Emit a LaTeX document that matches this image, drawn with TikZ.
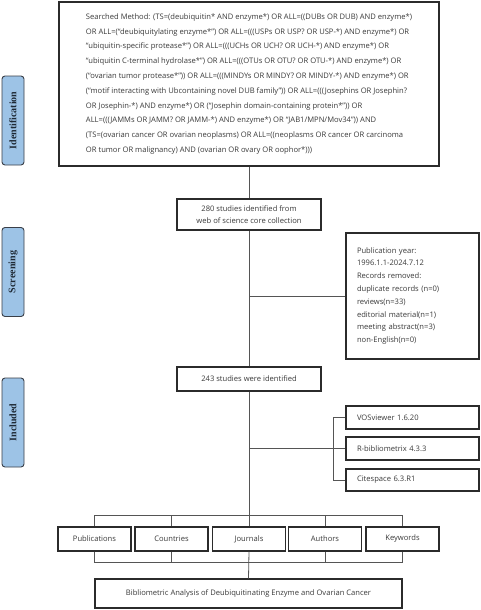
\documentclass[tikz,border=0pt]{standalone}
\usepackage{fontspec}
\setmainfont{Open Sans}
\newfontfamily\labelfont{Liberation Serif}
\definecolor{boxc}{HTML}{2B2B2B}
\definecolor{linec}{HTML}{555555}
\definecolor{txt}{HTML}{3A3A3A}
\definecolor{sidefill}{HTML}{9DC3E6}
\definecolor{sidec}{HTML}{3A3F48}
\definecolor{sidetext}{HTML}{1F2A36}
\begin{document}
\begin{tikzpicture}[x=1pt,y=-1pt,
  box/.style={draw=boxc, line width=1.1pt, fill=white, text=txt, inner sep=0pt,
    font=\fontsize{7.6}{9}\selectfont},
  sidebox/.style={draw=sidec, line width=0.9pt, fill=sidefill, rounded corners=3pt,
    rotate=90, minimum width=89pt, minimum height=22pt, inner sep=0pt, text=sidetext,
    font=\labelfont\bfseries\fontsize{10}{11}\selectfont},
  toolbox/.style={box, minimum height=23pt, inner xsep=11pt, text width=111pt, align=left},
  smallbox/.style={box, minimum width=73pt, minimum height=24pt},
  link/.style={draw=linec, line width=0.8pt}]
\useasboundingbox (0,0) rectangle (480,610);

% side labels
\node[sidebox] (ident) at (13,120.5) {Identification};
\node[sidebox] (screen) at (13,272) {Screening};
\node[sidebox] (incl) at (13,422.5) {Included};

% search box
\node[box, minimum width=380pt, minimum height=164pt, align=left,
  font=\fontsize{7.6}{14.8}\selectfont] (search) at (249,84) {%
Searched Method: (TS=(deubiquitin* AND enzyme*) OR ALL=((DUBs OR DUB) AND enzyme*)\\
OR ALL=(“deubiquitylating enzyme*”) OR ALL=(((USPs OR USP? OR USP-*) AND enzyme*) OR\\
“ubiquitin-specific protease*”) OR ALL=(((UCHs OR UCH? OR UCH-*) AND enzyme*) OR\\
“ubiquitin C-terminal hydrolase*”) OR ALL=(((OTUs OR OTU? OR OTU-*) AND enzyme*) OR\\
(“ovarian tumor protease*”)) OR ALL=(((MINDYs OR MINDY? OR MINDY-*) AND enzyme*) OR\\
(“motif interacting with Ubcontaining novel DUB family”)) OR ALL=(((Josephins OR Josephin?\\
OR Josephin-*) AND enzyme*) OR (“Josephin domain-containing protein*”)) OR\\
ALL=(((JAMMs OR JAMM? OR JAMM-*) AND enzyme*) OR “JAB1/MPN/Mov34”)) AND\\
(TS=(ovarian cancer OR ovarian neoplasms) OR ALL=((neoplasms OR cancer OR carcinoma\\
OR tumor OR malignancy) AND (ovarian OR ovary OR oophor*)))};

\node[box, minimum width=144pt, minimum height=31pt, align=center,
  font=\fontsize{7.6}{12}\selectfont] (s280) at (249,214.5)
  {280 studies identified from\\web of science core collection};

\node[box, minimum height=126pt, inner xsep=11pt, text width=111pt, align=left,
  font=\fontsize{7.6}{12.8}\selectfont] (pubyear) at (412.5,296) {%
Publication year:\\
1996.1.1-2024.7.12\\
Records removed:\\
duplicate records (n=0)\\
reviews(n=33)\\
editorial material(n=1)\\
meeting abstract(n=3)\\
non-English(n=0)};

\node[box, minimum width=144pt, minimum height=24pt] (s243) at (249,379)
  {243 studies were identified};

\node[toolbox] (vos) at (412.5,417.5) {VOSviewer 1.6.20};
\node[toolbox] (rbib) at (412.5,448.5) {R-bibliometrix 4.3.3};
\node[toolbox, minimum height=22pt] (cite) at (412.5,480) {Citespace 6.3.R1};

\node[smallbox] (publ) at (94.5,539) {Publications};
\node[smallbox] (coun) at (171.5,539) {Countries};
\node[smallbox] (jour) at (249,539) {Journals};
\node[smallbox] (auth) at (325,539) {Authors};
\node[smallbox] (keyw) at (402.5,539) {Keywords};

\node[box, minimum width=307pt, minimum height=29pt] (final) at (248.5,593.5)
  {Bibliometric Analysis of Deubiquitinating Enzyme and Ovarian Cancer};

% connectors
\coordinate (j1) at (249,296);
\coordinate (j2) at (249,448.5);
\path[link] (search.south -| s280.north) -- (s280.north);
\path[link] (s280.south) -- (s243.north);
\path[link] (j1) -- (pubyear.west);
\path[link] (s243.south) -- (jour.north);
\path[link] (j2) -- (rbib.west);
\path[link] (vos.west) -- ++(-12,0) |- (cite.west);
\path[link] (publ.north) -- ++(0,-11) -| (keyw.north);
\path[link] (coun.north) -- ++(0,-11);
\path[link] (auth.north) -- ++(0,-11);
\path[link] (publ.south) -- ++(0,11) -| (keyw.south);
\path[link] (coun.south) -- ++(0,11);
\path[link] (auth.south) -- ++(0,11);
\path[link] (jour.south) -- (final.north);
\end{tikzpicture}
\end{document}
